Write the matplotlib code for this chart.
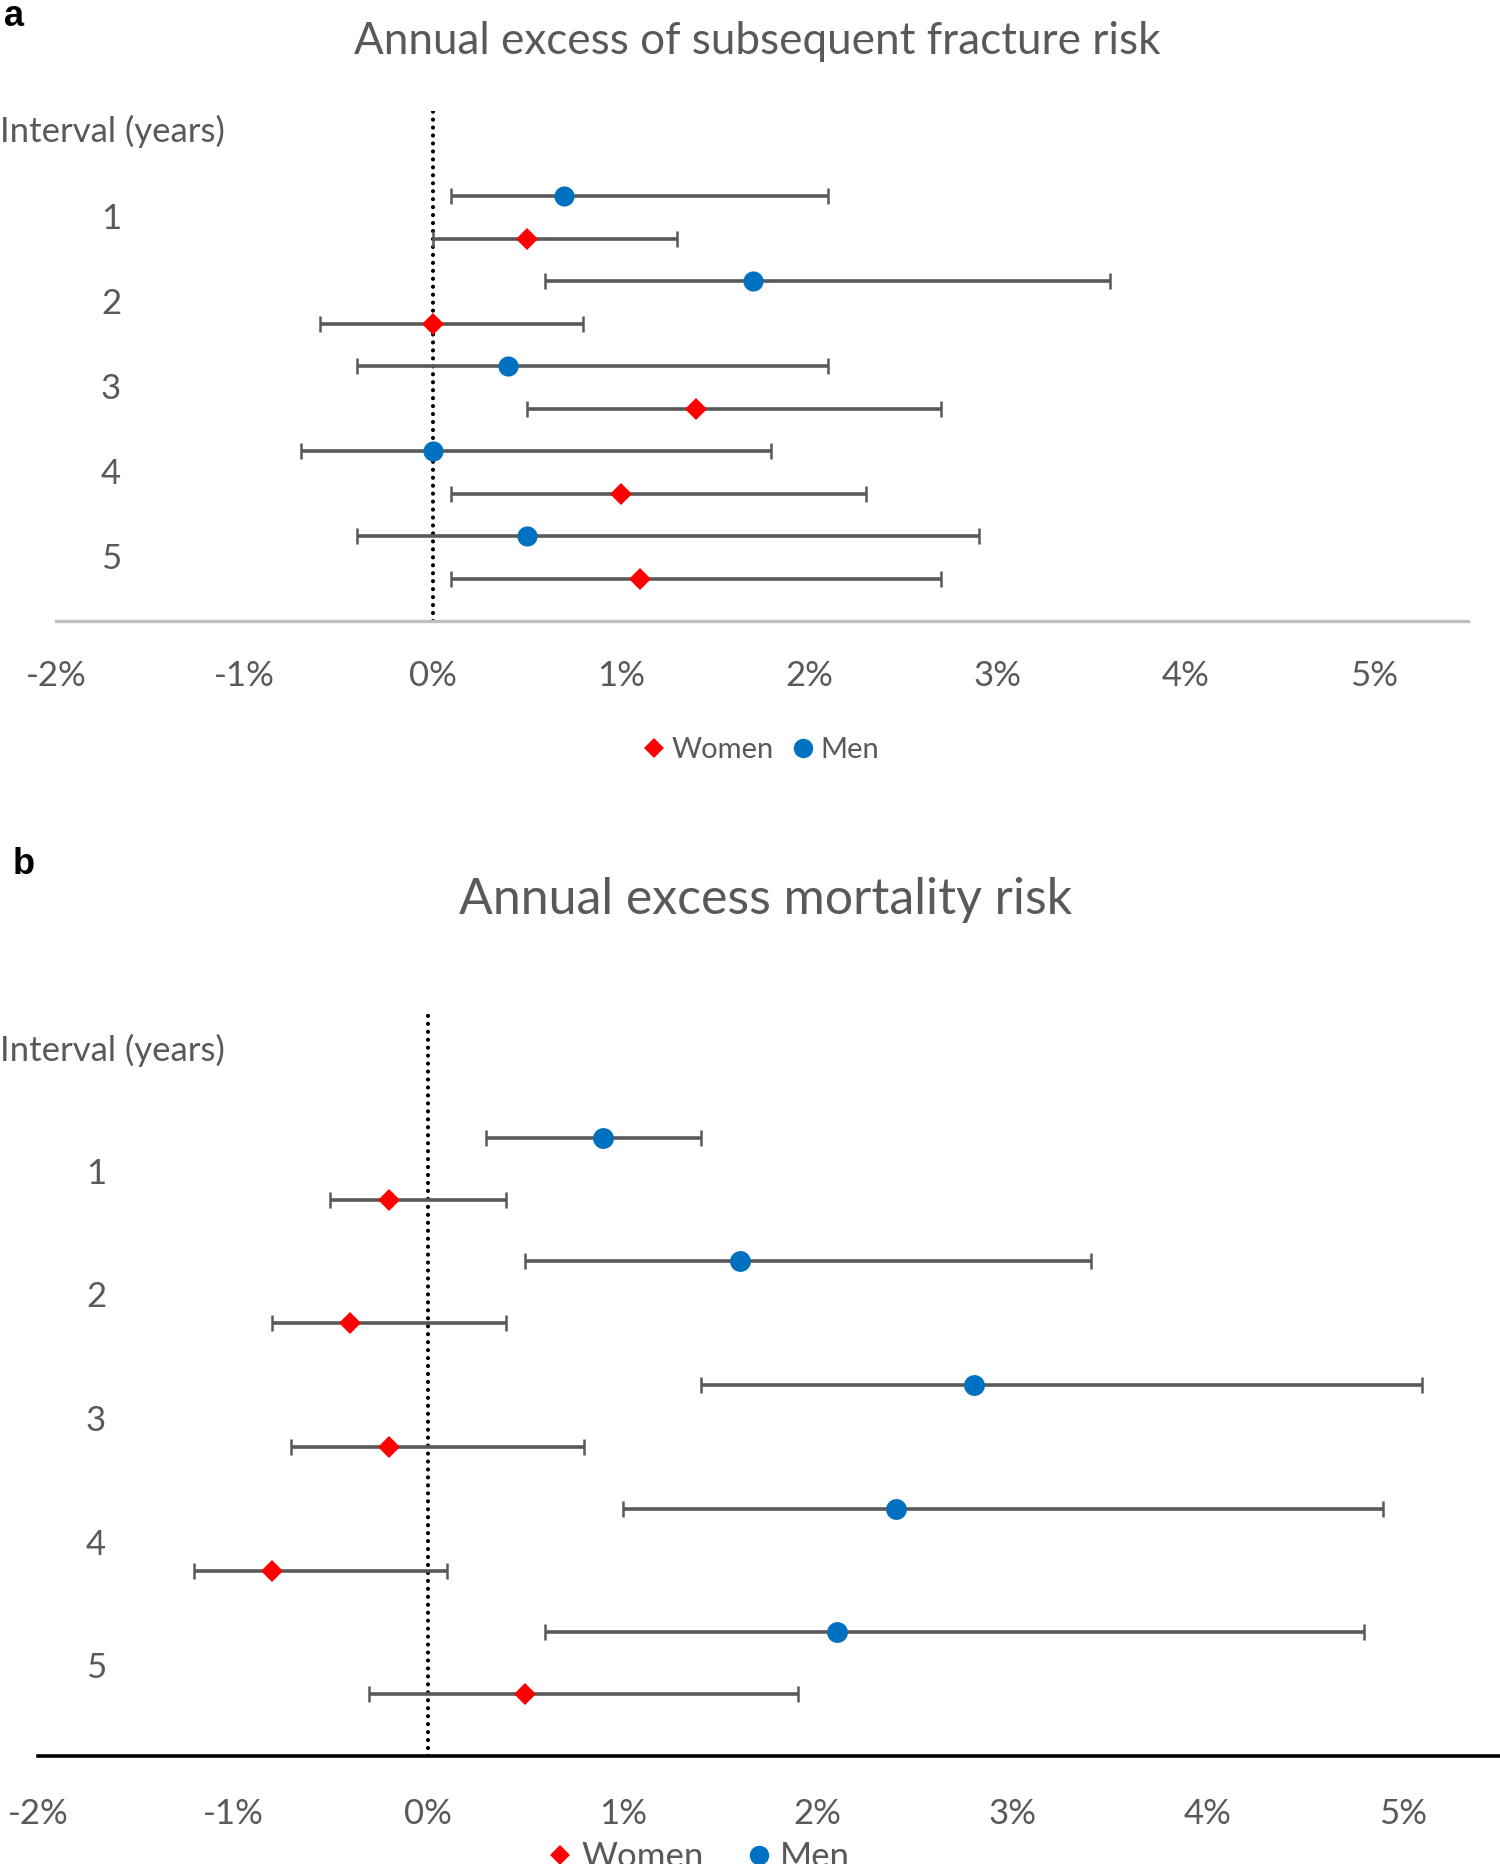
import matplotlib
matplotlib.use("Agg")
import matplotlib.pyplot as plt
from matplotlib.lines import Line2D
from matplotlib.transforms import blended_transform_factory

plt.rcParams['font.family'] = ['Lato', 'DejaVu Sans']
plt.rcParams['axes.unicode_minus'] = False

# values in percent, intervals 1..5
intervals = ["1", "2", "3", "4", "5"]
xticks = [-2, -1, 0, 1, 2, 3, 4, 5]

# panel a: annual excess of subsequent fracture risk
frac_men = [0.7, 1.7, 0.4, 0.0, 0.5]
frac_men_lo = [0.1, 0.6, -0.4, -0.7, -0.4]
frac_men_hi = [2.1, 3.6, 2.1, 1.8, 2.9]
frac_women = [0.5, 0.0, 1.4, 1.0, 1.1]
frac_women_lo = [0.0, -0.6, 0.5, 0.1, 0.1]
frac_women_hi = [1.3, 0.8, 2.7, 2.3, 2.7]

# panel b: annual excess mortality risk
mort_men = [0.9, 1.6, 2.8, 2.4, 2.1]
mort_men_lo = [0.3, 0.5, 1.4, 1.0, 0.6]
mort_men_hi = [1.4, 3.4, 5.1, 4.9, 4.8]
mort_women = [-0.2, -0.4, -0.2, -0.8, 0.5]
mort_women_lo = [-0.5, -0.8, -0.7, -1.2, -0.3]
mort_women_hi = [0.4, 0.4, 0.8, 0.1, 1.9]

GREY = '#595959'
RED = '#FF0000'
BLUE = '#0070C0'

fig = plt.figure(figsize=(15, 18.64), dpi=100)
W, H = 1500, 1864


def box(l, t, r, b):
    return [l / W, 1 - b / H, (r - l) / W, (b - t) / H]


def draw_panel(ax, men, men_lo, men_hi, women, women_lo, women_hi,
               spine_col, spine_w, ms_c, ms_d, pad):
    ym = [2 * i + 1 for i in range(len(men))]
    yw = [2 * i + 2 for i in range(len(women))]
    for vals, lo, hi, ys in [(men, men_lo, men_hi, ym), (women, women_lo, women_hi, yw)]:
        x = [v / 100 for v in vals]
        err = [[(v - l) / 100 for v, l in zip(vals, lo)],
               [(h - v) / 100 for v, h in zip(vals, hi)]]
        ax.errorbar(x, ys, xerr=err, fmt='none', ecolor=GREY, elinewidth=2.6,
                    capsize=6, capthick=1.8, zorder=2)
    ax.axvline(0, color='black', lw=3.0, linestyle=(0, (0.01, 1.9)),
               dash_capstyle='round', zorder=1)
    ax.plot([v / 100 for v in men], ym, 'o', color=BLUE, ms=ms_c, mew=0, zorder=4)
    ax.plot([v / 100 for v in women], yw, 'D', color=RED, ms=ms_d, mew=0, zorder=4)
    ax.set_xlim(-0.02, 0.055)
    ax.set_ylim(11, -1)
    ax.set_yticks([])
    ax.set_xticks([t / 100 for t in xticks])
    ax.set_xticklabels([f"{t}%" for t in xticks])
    ax.tick_params(axis='x', length=0, labelsize=25, labelcolor=GREY, pad=pad)
    for s in ['top', 'left', 'right']:
        ax.spines[s].set_visible(False)
    ax.spines['bottom'].set_color(spine_col)
    ax.spines['bottom'].set_linewidth(spine_w)


ax_a = fig.add_axes(box(56, 111, 1468, 621))
draw_panel(ax_a, frac_men, frac_men_lo, frac_men_hi,
           frac_women, frac_women_lo, frac_women_hi, '#BFBFBF', 2.4, 14.5, 11, 28)

ax_b = fig.add_axes(box(38, 1014, 1500, 1756))
draw_panel(ax_b, mort_men, mort_men_lo, mort_men_hi,
           mort_women, mort_women_lo, mort_women_hi, 'black', 2.6, 15, 11.5, 30)

# category labels and "Interval (years)"
for ax, xpx, ypx, dy in [(ax_a, 111, 131, 0.05), (ax_b, 96, 1050, 0.08)]:
    tr = blended_transform_factory(fig.transFigure, ax.transData)
    for i, lab in enumerate(intervals):
        ax.text(xpx / W, 2 * i + 1.5 + dy, lab, transform=tr, ha='center', va='center',
                fontsize=25, color=GREY)
    fig.text(0, 1 - ypx / H, "Interval (years)", ha='left', va='center',
             fontsize=25, color=GREY)

# titles
fig.text(757 / W, 1 - 42 / H, "Annual excess of subsequent fracture risk",
         ha='center', va='center', fontsize=31.7, color=GREY)
fig.text(766 / W, 1 - 900 / H, "Annual excess mortality risk",
         ha='center', va='center', fontsize=36, color=GREY)

# panel letters
fig.text(14 / W, 1 - 17 / H, "a", ha='center', va='center', fontsize=26,
         fontweight='bold', family='Liberation Sans')
fig.text(24 / W, 1 - 864 / H, "b", ha='center', va='center', fontsize=26,
         fontweight='bold', family='Liberation Sans')

# legends
handles = [Line2D([], [], marker='D', color=RED, ls='none', ms=10.5, mew=0),
           Line2D([], [], marker='o', color=BLUE, ls='none', ms=14, mew=0)]
fig.legend(handles, ["Women", "Men"], loc='center', bbox_to_anchor=(762 / W, 1 - 750 / H),
           ncol=2, frameon=False, fontsize=21, labelcolor=GREY, handlelength=0.6,
           handletextpad=0.3, columnspacing=0.7)
fig.legend(handles, ["Women", "Men"], loc='center', bbox_to_anchor=(700 / W, 1 - 1857 / H),
           ncol=2, frameon=False, fontsize=25, labelcolor=GREY, handlelength=0.6,
           handletextpad=0.3, columnspacing=1.3)

fig.savefig("out.png", dpi=100)
